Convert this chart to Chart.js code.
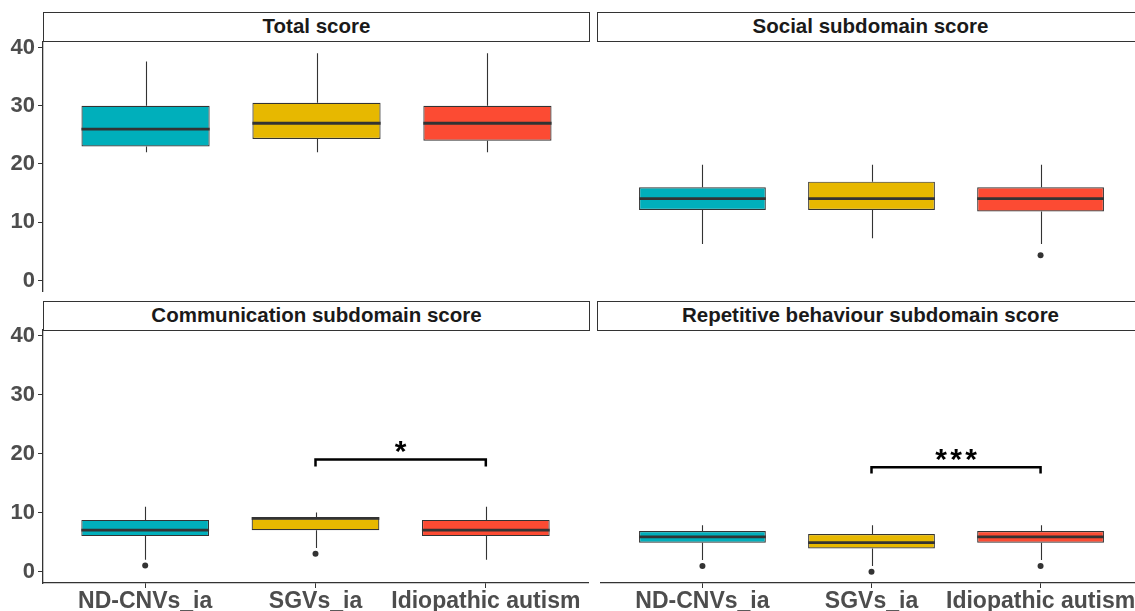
<!DOCTYPE html>
<html lang="en">
<head>
  <meta charset="UTF-8">
  <title>Score boxplots</title>
  <script src="https://cdn.jsdelivr.net/npm/chart.js"></script>
  <style>
    body {
      margin: 0;
      width: 1135px;
      height: 611px;
      overflow: hidden;
      background: #fff;
      font-family: "Liberation Sans", Arial, sans-serif;
      position: relative;
    }
    .panel { position: absolute; }
    .strip {
      position: absolute;
      box-sizing: border-box;
      height: 30px;
      border: 1.8px solid #333;
      background: #fff;
      font-weight: bold;
      font-size: 20.5px;
      color: #1a1a1a;
      text-align: center;
      line-height: 26px;
      z-index: 2;
    }
  </style>
</head>
<body>
  <div class="strip" style="left:43px;top:12px;width:547px;">Total score</div>
  <div class="strip" style="left:597px;top:12px;width:547px;">Social subdomain score</div>
  <div class="strip" style="left:43px;top:301px;width:547px;">Communication subdomain score</div>
  <div class="strip" style="left:597px;top:301px;width:547px;">Repetitive behaviour subdomain score</div>

  <div class="panel" style="left:0;top:20px;width:592px;height:288px;"><canvas id="total"></canvas></div>
  <div class="panel" style="left:597px;top:42px;width:549px;height:251px;"><canvas id="social"></canvas></div>
  <div class="panel" style="left:0;top:310px;width:592px;height:301px;"><canvas id="comm"></canvas></div>
  <div class="panel" style="left:597px;top:330px;width:549px;height:281px;"><canvas id="rep"></canvas></div>

  <script>
    // groups on the x axis
    const groups = ['ND-CNVs_ia', 'SGVs_ia', 'Idiopathic autism'];
    const colors = ['#00AFBB', '#E7B800', '#FC4B33'];
    const yTicks = [0, 10, 20, 30, 40];

    // box stats per group: [lower whisker, Q1, median, Q3, upper whisker]
    const totalStats = [[22, 23, 26, 30, 37.6], [22, 24.3, 27, 30.5, 39], [22, 24, 27, 30, 39]];
    const socialStats = [[6, 12, 14, 16, 20], [7, 12, 14, 17, 20], [6, 11.75, 14, 16, 20]];
    const commStats = [[2, 6, 7, 8.75, 11], [4, 7, 9, 9, 10], [2, 6, 7, 8.75, 11]];
    const repStats = [[2, 5, 6, 7, 8], [1, 4, 5, 6.5, 8], [2, 5, 6, 7, 8]];

    // outliers per group
    const totalOut = [[], [], []];
    const socialOut = [[], [], [4]];
    const commOut = [[1], [3], []];
    const repOut = [[1], [0], [1]];

    // significance brackets: [from group, to group, y, tip length, label]
    const commSig = [2, 3, 19, 1.2, '*'];
    const repSig = [2, 3, 18, 1.1, '***'];

    const yFont = { family: 'Liberation Sans', size: 22, weight: 'bold' };
    const xFont = { family: 'Liberation Sans', size: 23, weight: 'bold' };
    const axisColor = '#333';

    const boxPlugin = {
      id: 'boxParts',
      beforeDatasetsDraw(chart) {
        const { ctx, scales: { x, y } } = chart;
        const stats = chart.options.plugins.boxParts.stats;
        ctx.save();
        ctx.strokeStyle = '#333';
        ctx.lineWidth = 1.1;
        stats.forEach((s, i) => {
          const px = Math.round(x.getPixelForValue(i + 1)) + 0.5;
          ctx.beginPath();
          ctx.moveTo(px, y.getPixelForValue(s[0]));
          ctx.lineTo(px, y.getPixelForValue(s[1]));
          ctx.moveTo(px, y.getPixelForValue(s[3]));
          ctx.lineTo(px, y.getPixelForValue(s[4]));
          ctx.stroke();
        });
        ctx.restore();
      },
      afterDatasetsDraw(chart) {
        const { ctx, scales: { x, y } } = chart;
        const opts = chart.options.plugins.boxParts;
        const meta = chart.getDatasetMeta(0);
        ctx.save();
        ctx.strokeStyle = '#333';
        ctx.lineWidth = 2.8;
        opts.stats.forEach((s, i) => {
          const bar = meta.data[i];
          const py = y.getPixelForValue(s[2]);
          ctx.beginPath();
          ctx.moveTo(bar.x - bar.width / 2, py);
          ctx.lineTo(bar.x + bar.width / 2, py);
          ctx.stroke();
        });
        const sig = opts.sig;
        if (sig) {
          const x1 = x.getPixelForValue(sig[0]);
          const x2 = x.getPixelForValue(sig[1]);
          const yTop = y.getPixelForValue(sig[2]);
          const yTip = y.getPixelForValue(sig[2] - sig[3]);
          ctx.strokeStyle = '#000';
          ctx.lineWidth = 2.5;
          ctx.beginPath();
          ctx.moveTo(x1, yTip);
          ctx.lineTo(x1, yTop);
          ctx.lineTo(x2, yTop);
          ctx.lineTo(x2, yTip);
          ctx.stroke();
          ctx.fillStyle = '#000';
          ctx.font = 'bold 30px "Liberation Sans"';
          ctx.textAlign = 'center';
          ctx.textBaseline = 'alphabetic';
          const chars = sig[4].split('');
          const step = 15;
          const mid = (x1 + x2) / 2;
          chars.forEach((c, k) => {
            ctx.fillText(c, mid + (k - (chars.length - 1) / 2) * step, yTop + 2);
          });
        }
        ctx.restore();
      }
    };

    function makePanel(id, stats, outliers, sig, showX, showY) {
      const boxData = stats.map((s, i) => ({ x: i + 1, y: [s[1], s[3]] }));
      const outData = [];
      outliers.forEach((list, i) => list.forEach(v => outData.push({ x: i + 1, y: v })));

      let padTop = 0, padBottom = 0;
      if (showY) {
        padTop = showX ? 20 : 22;
        padBottom = showX ? 0 : 15;
      }

      return new Chart(document.getElementById(id), {
        type: 'bar',
        data: {
          datasets: [{
            type: 'bar',
            data: boxData,
            backgroundColor: colors,
            borderColor: '#333',
            borderWidth: 1.2,
            borderSkipped: false,
            barPercentage: 0.75,
            categoryPercentage: 1
          }, {
            type: 'scatter',
            data: outData,
            pointRadius: 3,
            pointBackgroundColor: '#333',
            pointBorderWidth: 0
          }]
        },
        options: {
          responsive: true,
          maintainAspectRatio: false,
          animation: false,
          layout: {
            padding: { top: padTop, right: showY ? 2 : 0, bottom: padBottom, left: 0 }
          },
          plugins: {
            legend: { display: false },
            tooltip: { enabled: false },
            boxParts: { stats: stats, sig: sig }
          },
          scales: {
            x: {
              type: 'linear',
              min: 0.4,
              max: 3.6,
              offset: false,
              display: showX,
              afterBuildTicks: axis => { axis.ticks = [1, 2, 3].map(v => ({ value: v })); },
              afterFit: axis => { if (showX) axis.height = 28; },
              border: { display: true, color: axisColor, width: 1.3 },
              grid: { display: true, offset: false, drawOnChartArea: false, drawTicks: true, tickLength: 5, color: axisColor },
              ticks: {
                autoSkip: false,
                maxRotation: 0,
                padding: 0,
                color: '#4d4d4d',
                font: xFont,
                callback: v => groups[v - 1]
              }
            },
            y: {
              min: -1.95,
              max: 40.95,
              display: showY,
              afterBuildTicks: axis => { axis.ticks = yTicks.map(v => ({ value: v })); },
              afterFit: axis => { if (showY) axis.width = 43; },
              border: { display: true, color: axisColor, width: 1.3 },
              grid: { display: true, drawOnChartArea: false, drawTicks: true, tickLength: 5, color: axisColor },
              ticks: { padding: 3, color: '#4d4d4d', font: yFont }
            }
          }
        },
        plugins: [boxPlugin]
      });
    }

    makePanel('total', totalStats, totalOut, null, false, true);
    makePanel('social', socialStats, socialOut, null, false, false);
    makePanel('comm', commStats, commOut, commSig, true, true);
    makePanel('rep', repStats, repOut, repSig, true, false);
  </script>
</body>
</html>
